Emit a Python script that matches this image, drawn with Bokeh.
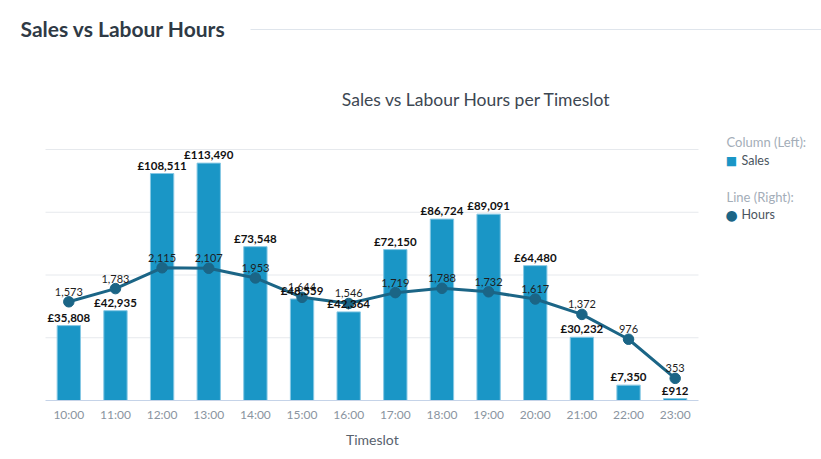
from bokeh.plotting import figure
from bokeh.models import Range1d, FixedTicker, ColumnDataSource, Label, LabelSet, Title
from bokeh.embed import file_html
from bokeh.resources import INLINE
from bokeh.core.properties import value

# ---- data ----
timeslots = ["10:00", "11:00", "12:00", "13:00", "14:00", "15:00", "16:00",
             "17:00", "18:00", "19:00", "20:00", "21:00", "22:00", "23:00"]
sales = [35808, 42935, 108511, 113490, 73548, 48559, 42364,
         72150, 86724, 89091, 64480, 30232, 7350, 912]
hours = [1573, 1783, 2115, 2107, 1953, 1644, 1546,
         1719, 1788, 1732, 1617, 1372, 976, 353]
sales_ticks = [0, 30000, 60000, 90000, 120000]
hours_ticks = [0, 1000, 2000, 3000, 4000]

FONT = "Lato"
BAR = "#1a96c6"
LINE = "#1b6586"

idx = list(range(len(timeslots)))
src = ColumnDataSource(dict(
    i=idx, sales=sales, hours=hours,
    sales_lbl=[f"£{v:,}" for v in sales],
    hours_lbl=[f"{v:,}" for v in hours],
))

# ---- layout (page pixels; Bokeh page has no body margin) ----
W, H = 821, 459
FRAME_BOTTOM = 400              # frame spans 0..400 vertically, axis panel below
PLOT_L, PLOT_R, PLOT_T = 45, 698, 149   # plotting area of the chart
N = len(timeslots)
STEP = (PLOT_R - PLOT_L) / N

X0 = -0.5 - PLOT_L / STEP
X1 = X0 + W / STEP
Y_TOP = sales_ticks[-1] * FRAME_BOTTOM / (FRAME_BOTTOM - PLOT_T)
H_TOP = hours_ticks[-1] * FRAME_BOTTOM / (FRAME_BOTTOM - PLOT_T)

p = figure(x_range=Range1d(X0, X1), y_range=Range1d(0, Y_TOP),
           width=W, height=H, output_backend="svg", toolbar_location=None,
           min_border_left=0, min_border_right=0, min_border_top=0,
           min_border_bottom=H - FRAME_BOTTOM, outline_line_color=None)
p.extra_y_ranges = {"hours": Range1d(0, H_TOP)}

p.yaxis.visible = False
p.grid.visible = False

xa = p.xaxis[0]
xa.ticker = FixedTicker(ticks=idx)
xa.major_label_overrides = {i: t for i, t in zip(idx, timeslots)}
xa.bounds = (-0.5, N - 0.5)
xa.major_label_text_font = FONT
xa.major_label_text_font_size = "12px"
xa.major_label_text_color = "#8a94a0"
xa.major_label_standoff = 6
xa.major_tick_in = 0
xa.major_tick_out = 0
xa.minor_tick_in = 0
xa.minor_tick_out = 0
xa.major_tick_line_color = None
xa.minor_tick_line_color = None
xa.axis_line_color = "#c5d3e8"
xa.axis_line_width = 1

# axis title, centred under the plotting area
p.add_layout(Title(text="Timeslot", align="left", offset=(PLOT_L + PLOT_R) / 2 - 26,
                   text_font=FONT, text_font_style="normal", text_font_size="14px",
                   text_color="#58626d", standoff=8), "below")

# horizontal grid lines at the left-axis ticks, limited to the plotting area
grid = ColumnDataSource(dict(y=sales_ticks[1:]))
p.segment(x0=-0.5, x1=N - 0.5, y0="y", y1="y", source=grid,
          line_color="#e6e9ed", line_width=1)

p.vbar(x="i", top="sales", width=0.5, source=src, fill_color=BAR,
       line_color="#86c8e4", line_width=1)
p.line(x="i", y="hours", source=src, y_range_name="hours", line_color=LINE, line_width=3)
p.scatter(x="i", y="hours", source=src, y_range_name="hours", size=10.5,
          fill_color=LINE, line_color=LINE)

p.add_layout(LabelSet(x="i", y="hours", text="hours_lbl", source=src, y_range_name="hours",
                      y_offset=6, text_align="center", text_baseline="bottom",
                      text_font=value(FONT), text_font_size="11px", text_color="#1e1e1e"))
p.add_layout(LabelSet(x="i", y="sales", text="sales_lbl", source=src,
                      y_offset=2, text_align="center", text_baseline="bottom",
                      text_font=value(FONT), text_font_style="bold", text_font_size="11.5px",
                      text_color="#111111"))


# page-pixel -> data coordinates for decorations
def dx(px):
    return X0 + px / STEP


def dy(py):
    return (FRAME_BOTTOM - py) / FRAME_BOTTOM * Y_TOP


def lab(text, px, py, **kw):
    kw.setdefault("text_font", FONT)
    return Label(x=dx(px), y=dy(py), text=text, text_baseline="middle", **kw)


# page header
p.add_layout(lab("Sales vs Labour Hours", 20, 28, text_font_style="bold",
                 text_font_size="21px", text_color="#2f3a45"))
p.segment(x0=[dx(250)], y0=[dy(29)], x1=[dx(W)], y1=[dy(29)], line_color="#dfe5ec", line_width=1)

# chart title
p.add_layout(lab("Sales vs Labour Hours per Timeslot", 476, 99, text_align="center",
                 text_font_size="17.5px", text_color="#3d4752"))

# legend
p.add_layout(lab("Column (Left):", 726, 141, text_font_size="13px", text_color="#a3adb8"))
p.add_layout(lab("■", 731, 160, text_align="center", text_font="DejaVu Sans",
                 text_font_size="12px", text_color=BAR))
p.add_layout(lab("Sales", 741, 160, text_font_size="12.5px", text_color="#4a5560"))
p.add_layout(lab("Line (Right):", 726, 196, text_font_size="13px", text_color="#a3adb8"))
p.add_layout(lab("●", 731, 214, text_align="center", text_font="DejaVu Sans",
                 text_font_size="14px", text_color=LINE))
p.add_layout(lab("Hours", 741, 214, text_font_size="12.5px", text_color="#4a5560"))

open("out.html", "w").write(file_html(p, INLINE))
